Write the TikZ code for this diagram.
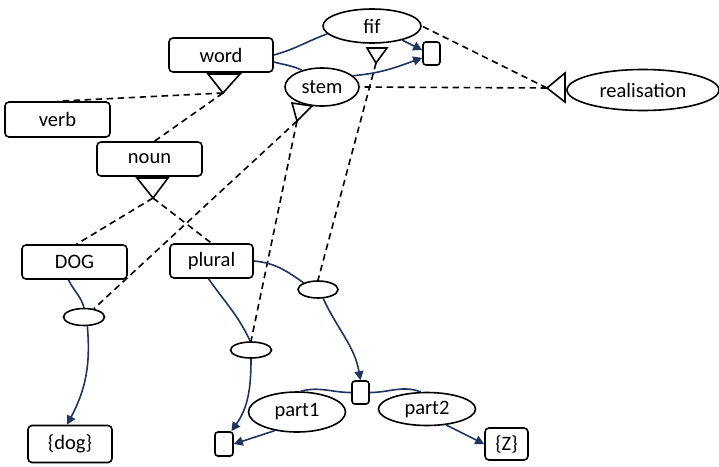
\documentclass[tikz,border=0pt]{standalone}
\usepackage{fontspec}
\setmainfont{Carlito}
\usetikzlibrary{arrows.meta,shapes.geometric}
\definecolor{navy}{RGB}{31,52,96}
\tikzset{
  every node/.style={font=\fontsize{20.5}{23}\selectfont, inner sep=0pt},
  box/.style={draw, line width=1.6pt, rounded corners=4pt},
  oval/.style={draw, line width=1.6pt, ellipse},
  slot/.style={draw, line width=1.6pt, rounded corners=3pt},
  rel/.style={draw=navy, line width=1.6pt},
  relarrow/.style={rel, -{Triangle[length=9pt,width=9pt]}},
  isa/.style={draw, line width=1.6pt, line join=miter},
  link/.style={draw, line width=1.6pt, dash pattern=on 6.5pt off 4.5pt},
}
\begin{document}
\begin{tikzpicture}[x=1pt,y=1pt]
\useasboundingbox (0,0) rectangle (719,-466);

% concept boxes
\node[box, minimum width=104pt, minimum height=34pt] (word)   at (221,-55)    {word};
\node[box, minimum width=105pt, minimum height=35pt] (verb)   at (57.5,-119.5) {verb};
\node[box, minimum width=105pt, minimum height=34pt] (noun)   at (149.5,-159) {noun};
\node[box, minimum width=105pt, minimum height=34pt] (DOG)    at (74.5,-262)  {DOG};
\node[box, minimum width=83pt,  minimum height=34pt] (plural) at (211.5,-261) {plural};
\node[box, minimum width=84pt,  minimum height=37pt] (dogform) at (70,-444)   {\{dog\}};
\node[box, minimum width=43pt,  minimum height=32pt] (zform)  at (506.5,-444) {\{Z\}};

% empty slots
\node[slot, minimum width=17pt, minimum height=23pt] (r1) at (431.5,-53.5) {};
\node[slot, minimum width=17pt, minimum height=23pt] (r2) at (360.5,-392.5) {};
\node[slot, minimum width=18pt, minimum height=24pt] (r3) at (224,-444) {};

% relation labels
\node[oval, minimum width=98pt,  minimum height=34pt] (fif)   at (372,-26)  {fif};
\node[oval, minimum width=74pt,  minimum height=38pt] (stem)  at (322,-87)  {stem};
\node[oval, minimum width=152pt, minimum height=41pt] (real)  at (643,-90)  {realisation};
\node[oval, minimum width=97pt,  minimum height=40pt] (part1) at (297,-412) {part1};
\node[oval, minimum width=97pt,  minimum height=33pt] (part2) at (427,-409) {part2};
\node[oval, minimum width=41pt,  minimum height=17pt] (e1)    at (84,-317)  {};
\node[oval, minimum width=41pt,  minimum height=16pt] (e2)    at (251,-350) {};
\node[oval, minimum width=40pt,  minimum height=17pt] (e3)    at (318,-289.5) {};

% isa triangles, apex named
\coordinate (wt) at (223,-93);
\coordinate (nt) at (153,-198);
\coordinate (ft) at (376,-63);
\coordinate (st) at (297,-121);
\coordinate (rt) at (547,-88);
\draw[isa] (208,-74) -- (240,-74) -- (wt) -- cycle;
\draw[isa] (137,-178) -- (168,-178) -- (nt) -- cycle;
\draw[isa] (367,-48) -- (387,-48) -- (ft) -- cycle;
\draw[isa] (292,-103) -- (312,-106) -- (st) -- cycle;
\draw[isa] (565,-73) -- (565,-102) -- (rt) -- cycle;

% isa links
\draw[link] (wt) -- (verb.north);
\draw[link] (wt) -- ([xshift=5pt]noun.north);
\draw[link] (nt) -- ([xshift=2pt]DOG.north);
\draw[link] (nt) -- (plural.north);
\draw[link] (st) -- (e1.40);
\draw[link] (st) -- (e2.north);
\draw[link] (ft) -- (e3.north);
\draw[link] (rt) -- (fif.east);
\draw[link] (rt) -- (stem.east);

% relations
\draw[rel] (word.east) to[out=15,in=200] (fif.190);
\draw[relarrow] (fif.-25) -- (r1.160);
\draw[rel] ([yshift=-7pt]word.east) to[out=-15,in=155] (stem.140);
\draw[relarrow] (stem.20) to[out=5,in=200] (r1.205);

\draw[rel] ([xshift=-6pt]DOG.south) to[out=-65,in=105] (e1.north);
\draw[relarrow] (e1.-70) to[out=-85,in=62] ([xshift=-3pt]dogform.north);
\draw[rel] ([xshift=-3pt]plural.south) to[out=-55,in=115] (e2.95);
\draw[relarrow] (e2.south) to[out=-90,in=55] (r3.60);
\draw[rel] (plural.east) to[out=-5,in=145] (e3.155);
\draw[relarrow] (e3.-60) to[out=-65,in=100] (r2.north);
\draw[rel] (r2.west) to[out=180,in=15] (part1.80);
\draw[relarrow] (part1.-140) -- (r3.east);
\draw[rel] (r2.east) to[out=0,in=160] (part2.110);
\draw[relarrow] (part2.-40) -- (zform.west);
\end{tikzpicture}
\end{document}
